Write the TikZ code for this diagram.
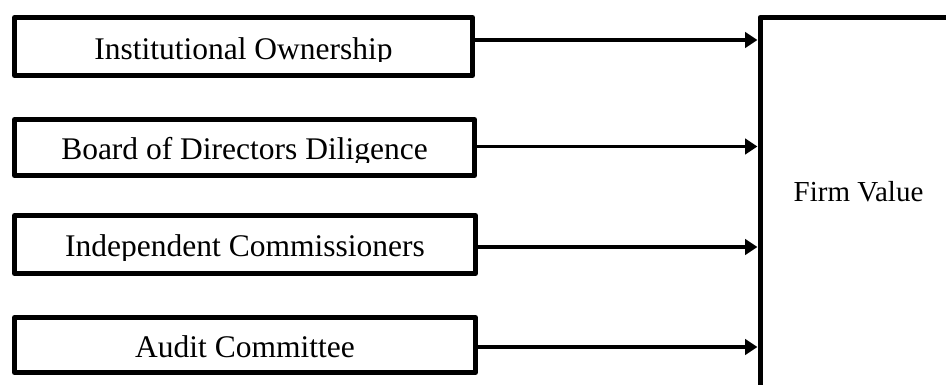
\documentclass[tikz,border=0pt]{standalone}
\usepackage{fontspec}
\setmainfont{Liberation Serif}
\usetikzlibrary{arrows.meta}
\begin{document}
\begin{tikzpicture}[x=1pt,y=-1pt,
  factor/.style={draw, line width=5pt, line join=round, inner sep=0pt},
  factortext/.style={anchor=base, inner sep=0pt, font=\fontsize{31.5}{36}\selectfont},
  outcome/.style={draw, line width=5pt, line join=round, inner sep=0pt, anchor=north west, minimum width=250pt, minimum height=420pt},
  outcometext/.style={anchor=base, inner sep=0pt, font=\fontsize{29}{34}\selectfont},
  link/.style={line width=3.5pt, -{Triangle[length=12.5pt,width=15.5pt]}}]
\useasboundingbox (0,0) rectangle (946,385);
\clip (0,0) rectangle (946,385);

% outcome box (only its top and left edges fall inside the picture)
\node[outcome] (fv) at (757.5,15) {};
\node[outcometext] (fvt) at (858.5,202) {Firm Value};

% factor boxes
\node[factor, minimum width=458pt, minimum height=58pt] (io) at (243.5,46.5) {};
\node[factor, minimum width=460pt, minimum height=56pt] (bd) at (244.5,147.5) {};
\node[factor, minimum width=461pt, minimum height=58pt] (ic) at (245,244.5) {};
\node[factor, minimum width=461pt, minimum height=55pt] (ac) at (245,345) {};

% factor labels (clipped just below the baseline, as in the original)
\begin{scope}
  \clip (14.5,17.5) rectangle (472.5,62);
  \node[factortext] (iot) at (243.5,59.5) {Institutional Ownership};
\end{scope}
\begin{scope}
  \clip (14.5,119.5) rectangle (474.5,163);
  \node[factortext] (bdt) at (244.5,160) {Board of Directors Diligence};
\end{scope}
\begin{scope}
  \clip (14.5,215.5) rectangle (475.5,260);
  \node[factortext] (ict) at (245,257) {Independent Commissioners};
\end{scope}
\begin{scope}
  \clip (14.5,317.5) rectangle (475.5,362);
  \node[factortext] (act) at (245,357) {Audit Committee};
\end{scope}

% connectors
\draw[link] (io.east |- 0,40) -- (fv.west |- 0,40);
\draw[link] (bd.east |- 0,146.5) -- (fv.west |- 0,146.5);
\draw[link] (ic.east |- 0,247) -- (fv.west |- 0,247);
\draw[link] (ac.east |- 0,347) -- (fv.west |- 0,347);
\end{tikzpicture}
\end{document}
